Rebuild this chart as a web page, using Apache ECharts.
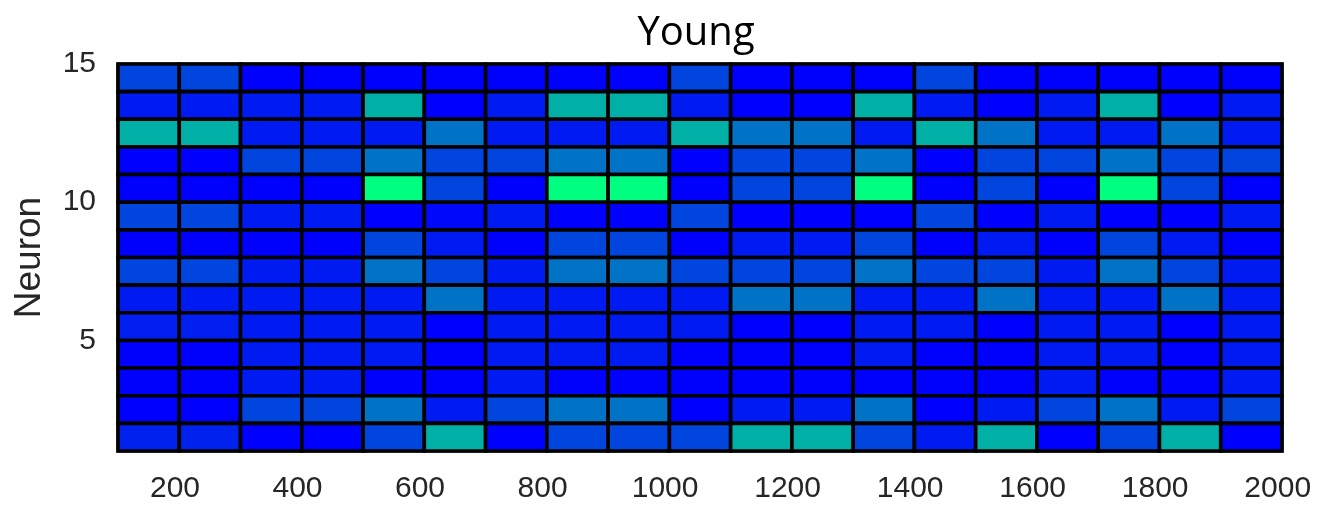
<!DOCTYPE html>
<html>
<head>
<meta charset="utf-8">
<script src="https://cdn.jsdelivr.net/npm/echarts@6/dist/echarts.min.js"></script>
<style>
html,body{margin:0;padding:0;background:#fff;}
#chart{width:1318px;height:507px;}
</style>
</head>
<body>
<div id="chart"></div>
<script>
// Time bins (bin centres) and bin width
const timeBins = [157, 257, 357, 457, 557, 657, 757, 857, 957, 1057, 1157, 1257, 1357, 1457, 1557, 1657, 1757, 1857, 1957];
const binWidth = 100;
// Neuron rows, top to bottom
const neurons = [14, 13, 12, 11, 10, 9, 8, 7, 6, 5, 4, 3, 2, 1];
const xTickLabels = [200, 400, 600, 800, 1000, 1200, 1400, 1600, 1800, 2000];
const yTickLabels = [5, 10, 15];

// Normalised activity per neuron (one value per time bin)
const n14 = [0.27, 0.27, 0, 0, 0, 0, 0, 0, 0, 0.27, 0, 0, 0, 0.27, 0, 0, 0, 0, 0];
const n13 = [0.1, 0.1, 0.1, 0.1, 0.69, 0, 0.1, 0.69, 0.69, 0.1, 0, 0, 0.69, 0.1, 0, 0.1, 0.69, 0, 0.1];
const n12 = [0.69, 0.69, 0.1, 0.1, 0.1, 0.45, 0.1, 0.1, 0.1, 0.69, 0.45, 0.45, 0.1, 0.69, 0.45, 0.1, 0.1, 0.45, 0.1];
const n11 = [0, 0, 0.27, 0.27, 0.45, 0.27, 0.27, 0.45, 0.45, 0, 0.27, 0.27, 0.45, 0, 0.27, 0.27, 0.45, 0.27, 0.27];
const n10 = [0, 0, 0, 0, 1, 0.27, 0, 1, 1, 0, 0.27, 0.27, 1, 0, 0.27, 0, 1, 0.27, 0];
const n9  = [0.27, 0.27, 0.1, 0.1, 0, 0.03, 0.1, 0, 0, 0.27, 0, 0, 0, 0.27, 0, 0.1, 0, 0, 0.1];
const n8  = [0, 0, 0, 0, 0.27, 0.1, 0, 0.27, 0.27, 0, 0.1, 0.1, 0.27, 0, 0.1, 0, 0.27, 0.1, 0];
const n7  = [0.27, 0.27, 0.1, 0.1, 0.45, 0.27, 0.1, 0.45, 0.45, 0.27, 0.27, 0.27, 0.45, 0.27, 0.27, 0.1, 0.45, 0.27, 0.1];
const n6  = [0.1, 0.1, 0.1, 0.1, 0.1, 0.45, 0.1, 0.1, 0.1, 0.1, 0.45, 0.45, 0.1, 0.1, 0.45, 0.1, 0.1, 0.45, 0.1];
const n5  = [0.12, 0.12, 0.1, 0.1, 0.1, 0, 0.1, 0.1, 0.1, 0.1, 0, 0, 0.1, 0.1, 0, 0.1, 0.1, 0, 0.1];
const n4  = [0, 0, 0.1, 0.1, 0.1, 0, 0.1, 0.1, 0.1, 0, 0, 0, 0.1, 0, 0, 0.1, 0.1, 0, 0.1];
const n3  = [0, 0, 0.1, 0.1, 0, 0, 0.1, 0, 0, 0, 0, 0, 0, 0, 0, 0.1, 0, 0, 0.1];
const n2  = [0, 0, 0.27, 0.27, 0.45, 0.1, 0.27, 0.45, 0.45, 0, 0.1, 0.1, 0.45, 0, 0.1, 0.27, 0.45, 0.1, 0.27];
const n1  = [0.13, 0.13, 0, 0, 0.27, 0.69, 0, 0.27, 0.27, 0.27, 0.69, 0.69, 0.27, 0.1, 0.69, 0, 0.27, 0.69, 0];

const rows = [n14, n13, n12, n11, n10, n9, n8, n7, n6, n5, n4, n3, n2, n1];
const cells = [];
rows.forEach((vals, r) => {
  vals.forEach((v, c) => cells.push([timeBins[c], neurons[r], v]));
});

const labelColor = '#262626';
const chart = echarts.init(document.getElementById('chart'), null, {renderer: 'canvas'});
chart.setOption({
  animation: false,
  backgroundColor: '#fff',
  title: {
    text: 'Young',
    left: 691,
    textAlign: 'center',
    top: 9,
    textStyle: {fontFamily: 'Open Sans', fontSize: 40, fontWeight: 'normal', color: '#000'}
  },
  grid: {
    left: 118, right: 36, top: 64, bottom: 56,
    show: true, borderColor: '#000', borderWidth: 3, backgroundColor: 'transparent'
  },
  xAxis: {
    type: 'value',
    min: 107,
    max: 2007,
    axisLine: {show: false},
    axisTick: {show: false},
    splitLine: {show: false},
    axisLabel: {
      customValues: xTickLabels,
      formatter: function (v) { return String(v); },
      margin: 23,
      fontFamily: 'Liberation Sans',
      fontSize: 30,
      color: labelColor
    }
  },
  yAxis: {
    type: 'value',
    min: 1,
    max: 15,
    name: 'Neuron',
    nameLocation: 'middle',
    nameGap: 70,
    nameTextStyle: {fontFamily: 'Liberation Sans', fontSize: 37, color: labelColor},
    axisLine: {show: false},
    axisTick: {show: false},
    splitLine: {show: false},
    axisLabel: {
      customValues: yTickLabels,
      formatter: function (v) { return String(v); },
      margin: 22,
      fontFamily: 'Liberation Sans',
      fontSize: 30,
      color: labelColor
    }
  },
  visualMap: {
    show: false,
    type: 'continuous',
    min: 0,
    max: 1,
    dimension: 2,
    seriesIndex: 0,
    inRange: {color: ['#0000FF', '#00FF80']}
  },
  series: [{
    type: 'custom',
    data: cells,
    encode: {x: 0, y: 1},
    renderItem: function (params, api) {
      const x = api.value(0), y = api.value(1);
      const p0 = api.coord([x - binWidth / 2, y + 1]);
      const p1 = api.coord([x + binWidth / 2, y]);
      return {
        type: 'rect',
        shape: {x: p0[0], y: p0[1], width: p1[0] - p0[0], height: p1[1] - p0[1]},
        style: {fill: api.visual('color'), stroke: '#000', lineWidth: 3.6}
      };
    }
  }]
});
</script>
</body>
</html>
